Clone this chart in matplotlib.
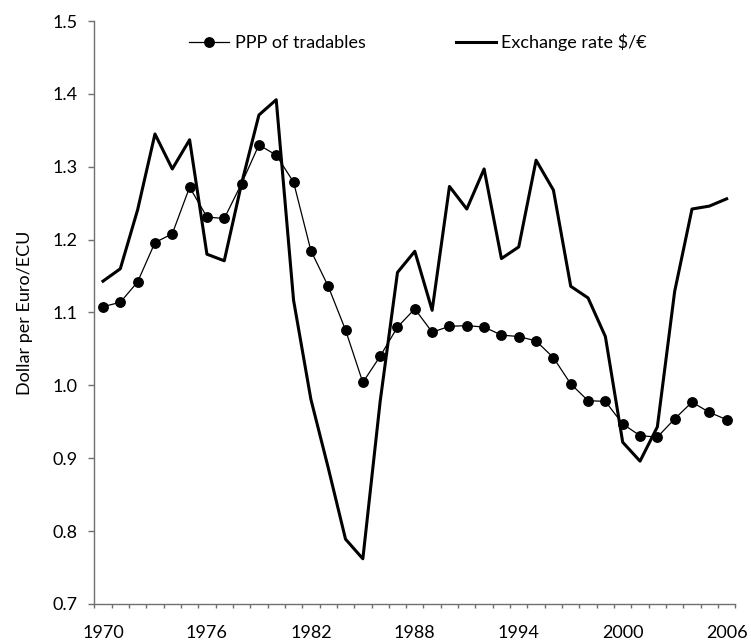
# Dollar per Euro/ECU: PPP of tradables vs. exchange rate, 1970-2006

import numpy as np
import matplotlib.pyplot as plt
from matplotlib.ticker import FixedLocator, MultipleLocator, FormatStrFormatter

years = list(range(1970, 2007))

# PPP of tradables (dots)
ppp = [1.108, 1.114, 1.142, 1.196, 1.208, 1.272, 1.231, 1.229, 1.277, 1.330,
       1.316, 1.279, 1.185, 1.136, 1.076, 1.004, 1.040, 1.080, 1.105, 1.073,
       1.081, 1.082, 1.080, 1.069, 1.067, 1.061, 1.038, 1.002, 0.979, 0.978,
       0.947, 0.931, 0.929, 0.954, 0.977, 0.963, 0.953]

# Exchange rate $/EUR (thick line)
exch = [1.143, 1.160, 1.241, 1.345, 1.297, 1.337, 1.180, 1.171, 1.277, 1.371,
        1.392, 1.117, 0.981, 0.887, 0.789, 0.762, 0.978, 1.155, 1.184, 1.103,
        1.273, 1.242, 1.297, 1.174, 1.190, 1.309, 1.268, 1.136, 1.120, 1.067,
        0.922, 0.896, 0.943, 1.129, 1.242, 1.246, 1.256]

year_labels = [1970, 1976, 1982, 1988, 1994, 2000, 2006]

plt.rcParams['font.family'] = ['Lato', 'DejaVu Sans']

fig = plt.figure(figsize=(7.51, 6.43), dpi=100)
ax = fig.add_axes([0.1256, 0.0607, 0.8535, 0.9066])

ax.plot(years, ppp, color="black", lw=0.9, marker="o", markersize=6.8,
        label="PPP of tradables")
ax.plot(years, exch, color="black", lw=2.2, label="Exchange rate $/€")

ax.set_xlim(1969.5, 2006.5)
ax.set_ylim(0.7, 1.5)

# y axis
ax.yaxis.set_major_locator(MultipleLocator(0.1))
ax.yaxis.set_major_formatter(FormatStrFormatter("%.1f"))
ax.tick_params(axis="y", direction="out", length=4, width=1, color="#707070",
               labelsize=13, pad=8)

# x axis: ticks between categories, labels under the categories
ax.xaxis.set_major_locator(FixedLocator(year_labels))
ax.xaxis.set_minor_locator(FixedLocator(np.arange(1969.5, 2007, 1.0)))
ax.tick_params(axis="x", which="major", length=0, labelsize=13, pad=15)
ax.tick_params(axis="x", which="minor", direction="out", length=3.2, width=1,
               color="#707070")

for s in ["top", "right"]:
    ax.spines[s].set_visible(False)
for s in ["left", "bottom"]:
    ax.spines[s].set_color("#707070")
    ax.spines[s].set_linewidth(1)

ax.set_ylabel("Dollar per Euro/ECU", fontsize=13, labelpad=14)

ax.legend(loc="upper center", bbox_to_anchor=(0.505, 1.0), ncol=2, frameon=False,
          fontsize=13, handlelength=2.2, handletextpad=0.3, columnspacing=5.0,
          borderaxespad=0.3)

fig.savefig("out.png", dpi=100)
